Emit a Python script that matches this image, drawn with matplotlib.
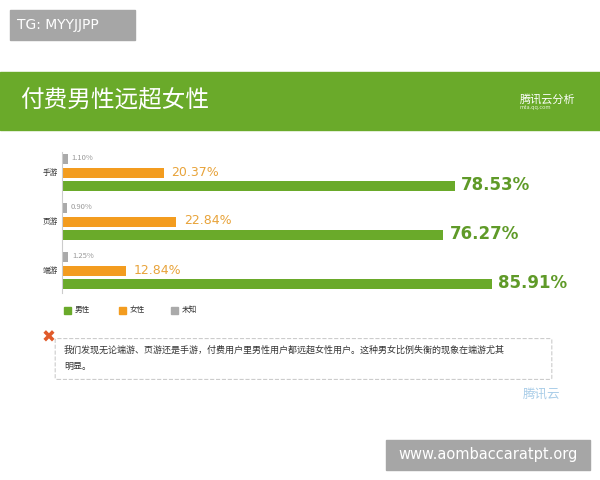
import matplotlib
matplotlib.use('Agg')
import matplotlib.pyplot as plt
from matplotlib.patches import Rectangle, FancyBboxPatch
import numpy as np

plt.rcParams['font.family'] = ['Noto Sans CJK SC', 'DejaVu Sans']

games = ['手游', '页游', '端游']
male = [78.53, 76.27, 85.91]
female = [20.37, 22.84, 12.84]
unknown = [1.10, 0.90, 1.25]
series_names = ['男性', '女性', '未知']

green = '#6aaa2a'
orange = '#f39c1f'
gray = '#aaaaaa'

fig = plt.figure(figsize=(6, 4.8), dpi=100)
W, H = 600, 480

def fx(px):
    return px / W

def fy(py):
    return 1 - py / H

# header band
fig.patches.append(Rectangle((0, fy(130)), 1, (130 - 72) / H, transform=fig.transFigure,
                             color=green, zorder=0))
fig.text(fx(20), fy(101), '付费男性远超女性', color='white', fontsize=17, va='center')
fig.text(fx(520), fy(99), '腾讯云分析', color='white', fontsize=8, va='center')
fig.text(fx(520), fy(108), 'mta.qq.com', color='#e8f3dc', fontsize=4, va='center')

# watermarks
fig.patches.append(Rectangle((fx(10), fy(40)), fx(125), 30 / H, transform=fig.transFigure,
                             color='#a6a6a6', zorder=0))
fig.text(fx(17), fy(25), 'TG: MYYJJPP', color='white', fontsize=10, va='center',
         family=['DejaVu Sans'])
fig.patches.append(Rectangle((fx(386), fy(470)), fx(204), 30 / H, transform=fig.transFigure,
                             color='#a6a6a6', zorder=0))
fig.text(fx(488), fy(455), 'www.aombaccaratpt.org', color='white', fontsize=10.5,
         va='center', ha='center', family=['DejaVu Sans'])

# chart
ax = fig.add_axes([fx(62), fy(293), fx(500), (293 - 152) / H])
n = len(games)
base = np.arange(n) * 49
bh = 10
ax.barh(base + 7, unknown, height=bh, color=gray)
ax.barh(base + 21, female, height=bh, color=orange)
ax.barh(base + 34, male, height=bh, color=green)
for i in range(n):
    ax.text(unknown[i] + 0.8, base[i] + 6, f'{unknown[i]:.2f}%', color='#999999',
            fontsize=5.5, va='center')
    ax.text(female[i] + 1.5, base[i] + 20, f'{female[i]:.2f}%', color='#e8a33a',
            fontsize=9, va='center', family=['DejaVu Sans'])
    ax.text(male[i] + 1.3, base[i] + 33, f'{male[i]:.2f}%', color='#5f9a28',
            fontsize=12, va='center', family=['DejaVu Sans'], fontweight='semibold')
ax.set_yticks(base + 20)
ax.set_yticklabels(games, fontsize=5.5, color='#333333')
ax.set_xlim(0, 100)
ax.set_ylim(141, 0)
ax.set_xticks([])
ax.tick_params(axis='y', length=0, pad=3)
for s in ['top', 'right', 'bottom']:
    ax.spines[s].set_visible(False)
ax.spines['left'].set_color('#cccccc')

# legend
for x0, name, c in zip([64, 119, 171], series_names, [green, orange, gray]):
    fig.patches.append(Rectangle((fx(x0), fy(314)), fx(7), 7 / H, transform=fig.transFigure, color=c))
    fig.text(fx(x0 + 11), fy(310), name, fontsize=5.5, color='#333333', va='center')

# comment box
fig.patches.append(FancyBboxPatch((fx(57), fy(378)), fx(493), 38 / H, transform=fig.transFigure,
                                  boxstyle='round,pad=0.003', fill=False, ec='#cccccc',
                                  ls='--', lw=0.8))
fig.text(fx(42), fy(338), '✖', color='#e05a2a', fontsize=12, va='center', family=['DejaVu Sans'])
fig.text(fx(64), fy(350), '我们发现无论端游、页游还是手游，付费用户里男性用户都远超女性用户。这种男女比例失衡的现象在端游尤其',
         fontsize=6.5, color='#333333', va='center')
fig.text(fx(64), fy(366), '明显。', fontsize=6.5, color='#333333', va='center')
fig.text(fx(560), fy(394), '腾讯云', fontsize=9, color='#a9cde8', va='center', ha='right')

fig.savefig('out.png', dpi=100)
